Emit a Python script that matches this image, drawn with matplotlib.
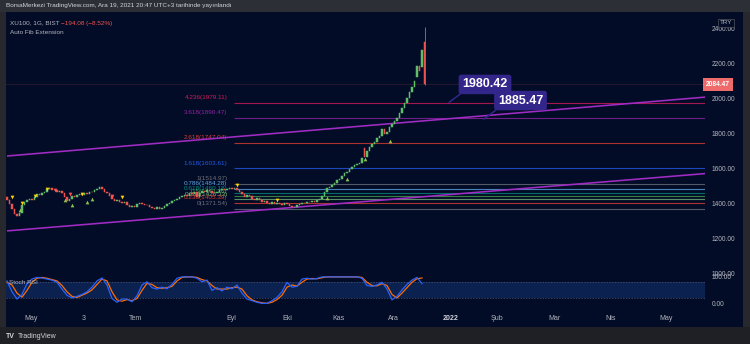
import matplotlib.pyplot as plt
import matplotlib.transforms as mtransforms
from matplotlib.patches import Rectangle
import numpy as np

plt.rcParams['font.family'] = ['Liberation Sans', 'DejaVu Sans']

# ---------------- data ----------------
# daily closes XU100, bar index 0 = late April 2021, last bar = Dec 17 2021
closes = [1420, 1400, 1370, 1340, 1330, 1350, 1395, 1410,
          1420, 1430, 1425, 1440, 1455, 1450, 1465, 1470,
          1485, 1490, 1478, 1482, 1470, 1475, 1460, 1440,
          1418, 1430, 1445, 1438, 1450, 1455, 1450, 1462,
          1458, 1470, 1468, 1478, 1485, 1495, 1488, 1470,
          1460, 1445, 1430, 1415, 1420, 1410, 1405, 1412,
          1395, 1385, 1390, 1385, 1398, 1405, 1400, 1395,
          1392, 1385, 1375, 1370, 1380, 1372, 1378, 1390,
          1398, 1405, 1415, 1420, 1430, 1438, 1445, 1452,
          1448, 1462, 1455, 1470, 1440, 1465, 1475, 1468,
          1480, 1472, 1465, 1462, 1470, 1478, 1485, 1480,
          1488, 1492, 1485, 1490, 1478, 1470, 1455, 1440,
          1450, 1445, 1430, 1425, 1432, 1420, 1410, 1415,
          1405, 1400, 1410, 1398, 1405, 1400, 1395, 1405,
          1398, 1390, 1380, 1385, 1395, 1400, 1408, 1404,
          1412, 1410, 1415, 1410, 1420, 1428, 1445, 1470,
          1490, 1495, 1510, 1520, 1535, 1545, 1560, 1575,
          1585, 1600, 1610, 1620, 1630, 1635, 1660, 1668,
          1700, 1725, 1745, 1755, 1775, 1790, 1830, 1800,
          1810, 1840, 1855, 1875, 1890, 1920, 1950, 1975,
          2005, 2040, 2069, 2103, 2188, 2160, 2278.55, 2084.47]
gap_opens = {143: 1720, 164: 2126, 165: 2188, 166: 2183, 167: 2326}
last_high = 2411
last_low = 2078
last_price = 2084.47

# signal markers (bar index, price)
yellow_idx = [2, 6, 11, 16, 30, 46, 92, 108]
yellow_px = [1440, 1406, 1446, 1486, 1457, 1440, 1509, 1423]
red_idx = [19, 25, 42]
red_px = [1480, 1457, 1446]
green_idx = [5, 23, 26, 32, 34, 128, 136, 143, 153]
green_px = [1366, 1423, 1394, 1411, 1429, 1434, 1543, 1657, 1760]

# fib extension levels
fib_ratios = ['4.236', '3.618', '2.618', '1.618', '1', '0.786', '0.618',
              '0.5', '0.382', '0.236', '0']
fib_prices = [1979.11, 1890.47, 1747.04, 1603.61, 1514.97, 1484.28,
              1460.18, 1443.26, 1426.33, 1405.39, 1371.54]
fib_start = 90.8

# trend channel (bar index, price)
upper_line = [(0, 1674), (279.6, 2011)]
lower_line = [(0, 1246), (279.6, 1574)]

# callouts: (text, anchor index, anchor price, box index, box price)
callouts = [('1980.42', 176.8, 1980.42, 191.2, 2083),
            ('1885.47', 190.8, 1885.47, 205.4, 1991)]

# Stoch RSI, every second bar
stoch_k = [85, 45, 18, 35, 75, 92, 98, 96, 92, 88,
           80, 55, 32, 22, 28, 35, 45, 62, 85, 96,
           70, 20, 6, 18, 18, 8, 30, 70, 82, 60,
           55, 62, 56, 72, 95, 100, 100, 100, 95, 82,
           88, 50, 60, 48, 62, 56, 70, 40, 18, 12,
           6, 2, 2, 12, 24, 45, 80, 62, 65, 92,
           95, 92, 94, 100, 100, 100, 100, 100, 100, 100,
           100, 95, 68, 65, 70, 80, 55, 15, 28, 52,
           72, 88, 98, 75]
stoch_d = [80, 70, 40, 25, 50, 80, 95, 98, 95, 90,
           85, 68, 45, 28, 24, 32, 40, 52, 72, 92,
           85, 45, 15, 10, 16, 12, 20, 50, 76, 72,
           60, 58, 60, 65, 85, 98, 100, 100, 98, 90,
           85, 68, 55, 55, 55, 60, 62, 55, 30, 15,
           8, 4, 2, 6, 16, 32, 62, 70, 66, 80,
           92, 94, 93, 97, 100, 100, 100, 100, 100, 100,
           100, 98, 80, 68, 67, 75, 68, 35, 22, 40,
           60, 80, 93, 96]

month_pos = [9.6, 30.8, 51.6, 89.6, 112, 132.4, 154.4, 177.6, 196, 218.8, 241.6, 263.6]
month_lbl = ['May', '3', 'Tem', 'Eyl', 'Eki', 'Kas', 'Ara', '2022', 'Şub', 'Mar', 'Nis', 'May']
price_ticks = [1000, 1200, 1400, 1600, 1800, 2000, 2200, 2400]

# ---------------- figure ----------------
W, H = 750, 344
BG = '#030c26'
TXT = '#b2b5be'
fig = plt.figure(figsize=(W / 100, H / 100), dpi=100)
fig.patch.set_facecolor('#26282e')

def fx(px):
    return px / W

def fy(py):
    return 1 - py / H

fig.patches.append(Rectangle((0, fy(12)), 1, 12 / H, transform=fig.transFigure,
                             fc='#2c2f36', ec='none', zorder=-5))
fig.patches.append(Rectangle((0, 0), 1, fy(327), transform=fig.transFigure,
                             fc='#1e2025', ec='none', zorder=-5))
fig.patches.append(Rectangle((fx(6), fy(327)), fx(743 - 6), (327 - 12) / H,
                             transform=fig.transFigure, fc=BG, ec='none', zorder=-5))

ax = fig.add_axes([fx(6), fy(275), fx(699), (275 - 12) / H])
ax2 = fig.add_axes([fx(6), fy(312), fx(699), (312 - 275) / H])
for a in (ax, ax2):
    a.set_facecolor('none')
    for s in a.spines.values():
        s.set_visible(False)
    a.set_xlim(-0.4, 279.2)

ax.set_ylim(994, 2497)
ax2.set_ylim(-30, 107)

# candles
idx = np.arange(len(closes))
opens = [gap_opens.get(i, closes[i - 1] if i else 1440) for i in idx]
opens = np.array(opens, dtype=float)
cl = np.array(closes, dtype=float)
up = cl >= opens
colors = np.where(up, '#62bd68', '#ef5350')
ax.vlines(idx[-1], last_low, last_high, color='#ef5350', lw=0.6, zorder=3)
ax.bar(idx, cl - opens, bottom=opens, width=0.75, color=colors,
       edgecolor=colors, linewidth=0.35, zorder=4)

ax.scatter(yellow_idx, yellow_px, marker='v', s=7, color='#ffd600', lw=0, zorder=5)
ax.scatter(red_idx, red_px, marker='v', s=7, color='#ff5252', lw=0, zorder=5)
ax.scatter(green_idx, green_px, marker='^', s=7, color='#8bc34a', lw=0, zorder=5)

# last price line
ax.axhline(last_price, color='#ef5350', lw=0.5, alpha=0.2, zorder=1)

# fib levels
fib_colors = ['#e91e63', '#9c27b0', '#f44336', '#2962ff', '#787b86', '#64b5f6',
              '#009688', '#4caf50', '#81c784', '#f44336', '#787b86']
for r, p, c in zip(fib_ratios, fib_prices, fib_colors):
    ax.hlines(p, fib_start, 279.2, color=c, lw=0.8, alpha=0.7, zorder=2)
    ax.annotate('%s(%.2f)' % (r, p), (fib_start - 2.6, p), xytext=(0, 2),
                textcoords='offset points', ha='right', va='bottom',
                fontsize=4.6, color=c, alpha=0.9, zorder=2)

# trend channel
for line in (upper_line, lower_line):
    xs, ys = zip(*line)
    ax.plot(xs, ys, color='#a02cc4', lw=1.15, zorder=3, solid_capstyle='butt')

# callouts
for txt, ax_i, ax_p, bx_i, bx_p in callouts:
    ax.annotate(txt, xy=(ax_i, ax_p), xytext=(bx_i, bx_p), ha='center', va='center',
                color='white', fontsize=9, fontweight='bold', zorder=6,
                bbox=dict(boxstyle='round,pad=0.3,rounding_size=0.2', fc='#33268a', ec='none'),
                arrowprops=dict(arrowstyle='-', color='#33268a', lw=1.1,
                                relpos=(0.06, 0), shrinkA=0, shrinkB=0))

# price axis
ax.yaxis.tick_right()
ax.set_yticks(price_ticks, ['%.2f' % v for v in price_ticks])
ax.tick_params(axis='y', length=0, pad=5, labelsize=4.8, labelcolor=TXT)
ax.set_xticks([])
trans = mtransforms.blended_transform_factory(ax.transAxes, ax.transData)
ax.text(1.0015, last_price, '%.2f' % last_price, transform=trans, ha='left', va='center',
        fontsize=4.8, color='white', fontweight='bold', zorder=7,
        bbox=dict(boxstyle='square,pad=0.45', fc='#ef6b6b', ec='none'))
fig.text(fx(726), fy(23), 'TRY', ha='center', va='center', fontsize=4.5, color=TXT,
         bbox=dict(boxstyle='square,pad=0.25', fc=BG, ec='#50535e', lw=0.5))

# stoch rsi pane
ax2.axhspan(20, 80, color='#0b2150', lw=0, zorder=0)
for lvl in (20, 80):
    ax2.axhline(lvl, color='#4b5673', lw=0.5, ls=(0, (2, 2)), zorder=1)
sx = np.arange(0, 2 * len(stoch_k), 2)
ax2.plot(sx, stoch_d, color='#ff6d00', lw=0.9, zorder=3)
ax2.plot(sx, stoch_k, color='#2962ff', lw=0.9, zorder=4)
ax2.text(0.005, 80, 'Stoch RSI', transform=mtransforms.blended_transform_factory(ax2.transAxes, ax2.transData),
         fontsize=4.6, color=TXT, va='center', ha='left', zorder=5)
ax2.yaxis.tick_right()
ax2.set_yticks([0, 100], ['0.00', '100.00'])
ax2.tick_params(axis='y', length=0, pad=5, labelsize=4.8, labelcolor=TXT)
ax2.set_xticks(month_pos, month_lbl)
ax2.tick_params(axis='x', length=0, pad=2, labelsize=5, labelcolor=TXT)
for lab in ax2.get_xticklabels():
    if lab.get_text() == '2022':
        lab.set_fontweight('bold')
        lab.set_color('#d1d4dc')

# header / legend texts
fig.text(fx(6), fy(6), 'BorsaMerkezi TradingView.com, Ara 19, 2021 20:47 UTC+3 tarihinde yayınlandı',
         fontsize=4.6, color='#d1d4dc', va='center', ha='left')
fig.text(fx(10), fy(23), 'XU100, 1G, BIST', fontsize=4.6, color=TXT, va='center', ha='left')
fig.text(fx(61), fy(23), '\u2212194.08 (\u22128.52%)', fontsize=4.6, color='#ef5350', va='center', ha='left')
fig.text(fx(10), fy(32), 'Auto Fib Extension', fontsize=4.6, color=TXT, va='center', ha='left')

# footer
fig.text(fx(6), fy(336), 'TV', fontsize=5, fontweight='bold', color='#d1d4dc', va='center', ha='left')
fig.text(fx(18), fy(336), 'TradingView', fontsize=5, color='#d1d4dc', va='center', ha='left')

fig.savefig('out.png', dpi=100, facecolor=fig.get_facecolor())
